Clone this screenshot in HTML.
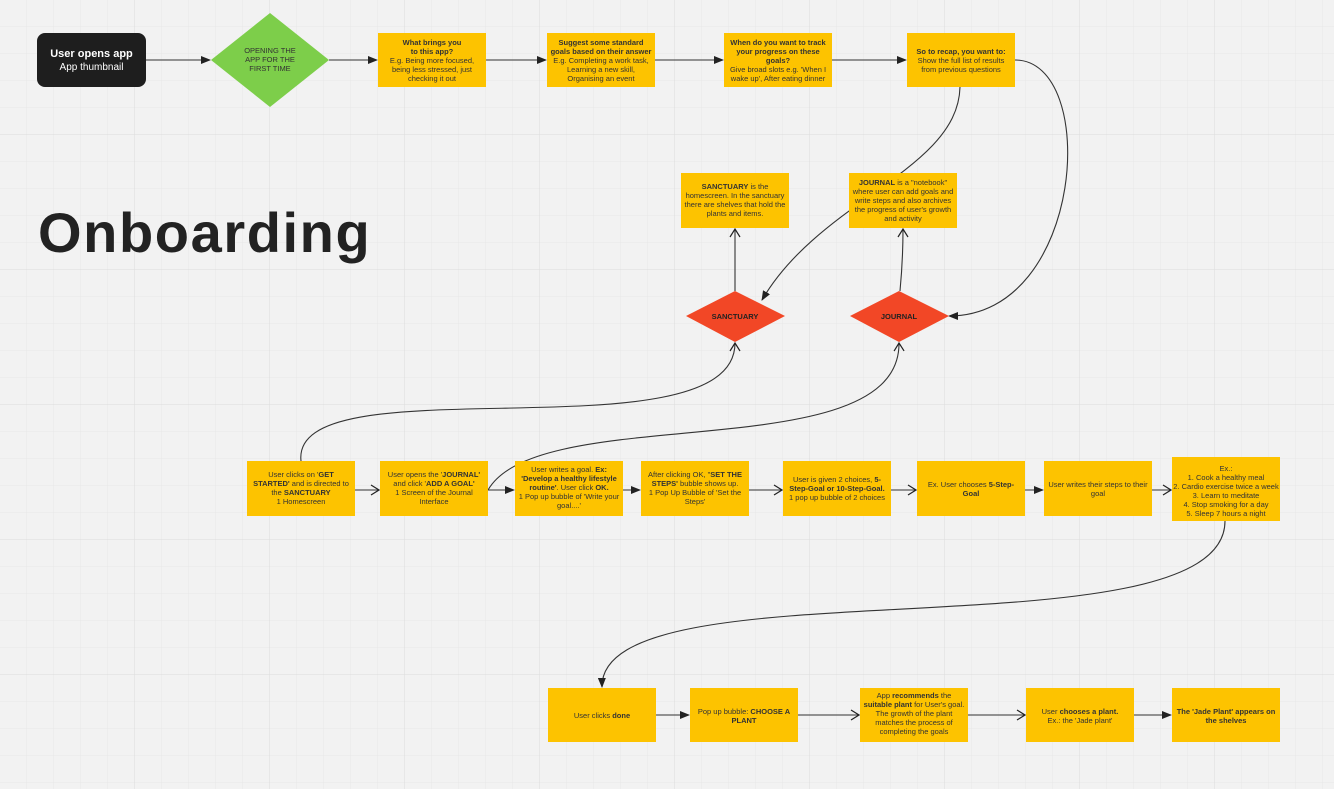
<!DOCTYPE html>
<html><head><meta charset="utf-8"><style>
html,body{margin:0;padding:0;background:#f2f2f2;}
svg{display:block;font-family:"Liberation Sans",Arial,sans-serif;}
</style></head><body>
<svg width="1334" height="789" viewBox="0 0 1334 789" xmlns="http://www.w3.org/2000/svg">
<defs>
<pattern id="g" width="27" height="27" patternUnits="userSpaceOnUse"><path d="M27 0V27H0" fill="none" stroke="#e8e8e8" stroke-width="1"/></pattern>
<pattern id="G" width="135" height="135" patternUnits="userSpaceOnUse"><rect width="135" height="135" fill="url(#g)"/><path d="M135 0V135H0" fill="none" stroke="#dcdcdc" stroke-width="1"/></pattern>
<marker id="a" markerWidth="10" markerHeight="8" refX="9" refY="4" orient="auto" markerUnits="userSpaceOnUse"><path d="M0,0 L10,4 L0,8 Z" fill="#222"/></marker>
<marker id="o" markerWidth="10" markerHeight="12" refX="9" refY="6" orient="auto" markerUnits="userSpaceOnUse"><path d="M1,1 L9,6 L1,11" fill="none" stroke="#222" stroke-width="1.2"/></marker>
</defs>
<rect width="1334" height="789" fill="url(#G)"/>

<g stroke="#333" stroke-width="1.1" fill="none">
<line x1="146" y1="60" x2="210" y2="60" marker-end="url(#a)"/>
<line x1="329" y1="60" x2="377" y2="60" marker-end="url(#a)"/>
<line x1="486" y1="60" x2="546" y2="60" marker-end="url(#a)"/>
<line x1="655" y1="60" x2="723" y2="60" marker-end="url(#a)"/>
<line x1="832" y1="60" x2="906" y2="60" marker-end="url(#a)"/>
<path d="M960,87 C958,170 820,200 762,300" marker-end="url(#a)"/>
<path d="M1015,60 C1100,60 1085,316 949,316" marker-end="url(#a)"/>
<line x1="735" y1="291" x2="735" y2="229" marker-end="url(#o)"/>
<path d="M900,291 C902,270 903,250 903,229" marker-end="url(#o)"/>
<path d="M301,461 C290,360 735,460 735,343" marker-end="url(#o)"/>
<path d="M488,490 C540,400 900,470 899,343" marker-end="url(#o)"/>
<line x1="355" y1="490" x2="379" y2="490" marker-end="url(#o)"/>
<line x1="488" y1="490" x2="514" y2="490" marker-end="url(#a)"/>
<line x1="623" y1="490" x2="640" y2="490" marker-end="url(#a)"/>
<line x1="749" y1="490" x2="782" y2="490" marker-end="url(#o)"/>
<line x1="891" y1="490" x2="916" y2="490" marker-end="url(#o)"/>
<line x1="1025" y1="490" x2="1043" y2="490" marker-end="url(#a)"/>
<line x1="1152" y1="490" x2="1171" y2="490" marker-end="url(#o)"/>
<path d="M1225,521 C1225,660 600,560 602,687" marker-end="url(#a)"/>
<line x1="656" y1="715" x2="689" y2="715" marker-end="url(#a)"/>
<line x1="798" y1="715" x2="859" y2="715" marker-end="url(#o)"/>
<line x1="968" y1="715" x2="1025" y2="715" marker-end="url(#o)"/>
<line x1="1134" y1="715" x2="1171" y2="715" marker-end="url(#a)"/>
</g>

<rect x="37" y="33" width="109" height="54" rx="8" fill="#1e1e1e"/>
<text x="91.5" y="57" fill="#fff" font-size="11" font-weight="bold" text-anchor="middle">User opens app</text>
<text x="91.5" y="70" fill="#fff" font-size="10" text-anchor="middle">App thumbnail</text>

<polygon points="270,13 329,60 270,107 211,60" fill="#7dce4a"/>
<g font-size="7.5" fill="#333" text-anchor="middle"><text x="270" y="53">OPENING THE</text><text x="270" y="62">APP FOR THE</text><text x="270" y="71">FIRST TIME</text></g>

<polygon points="735,291 785,316 735,342 686,316" fill="#f24726"/>
<text x="735" y="319" font-size="7.5" font-weight="bold" fill="#222" text-anchor="middle">SANCTUARY</text>
<polygon points="899,291 949,316 899,342 850,316" fill="#f24726"/>
<text x="899" y="319" font-size="7.5" font-weight="bold" fill="#222" text-anchor="middle">JOURNAL</text>

<text x="38" y="252" font-size="56" font-weight="bold" fill="#222" letter-spacing="1.6">Onboarding</text>

<g fill="#fdc300">
<rect x="378" y="33" width="108" height="54"/><rect x="547" y="33" width="108" height="54"/>
<rect x="724" y="33" width="108" height="54"/><rect x="907" y="33" width="108" height="54"/>
<rect x="681" y="173" width="108" height="55"/><rect x="849" y="173" width="108" height="55"/>
<rect x="247" y="461" width="108" height="55"/><rect x="380" y="461" width="108" height="55"/>
<rect x="515" y="461" width="108" height="55"/><rect x="641" y="461" width="108" height="55"/>
<rect x="783" y="461" width="108" height="55"/><rect x="917" y="461" width="108" height="55"/>
<rect x="1044" y="461" width="108" height="55"/><rect x="1172" y="457" width="108" height="64"/>
<rect x="548" y="688" width="108" height="54"/><rect x="690" y="688" width="108" height="54"/>
<rect x="860" y="688" width="108" height="54"/><rect x="1026" y="688" width="108" height="54"/>
<rect x="1172" y="688" width="108" height="54"/>
</g>

<g font-size="7.5" fill="#333" text-anchor="middle">
<text x="432" y="45"><tspan font-weight="bold">What brings you</tspan><tspan x="432" dy="9" font-weight="bold">to this app?</tspan><tspan x="432" dy="9">E.g. Being more focused,</tspan><tspan x="432" dy="9">being less stressed, just</tspan><tspan x="432" dy="9">checking it out</tspan></text>
<text x="601" y="45"><tspan font-weight="bold">Suggest some standard</tspan><tspan x="601" dy="9" font-weight="bold">goals based on their answer</tspan><tspan x="601" dy="9">E.g. Completing a work task,</tspan><tspan x="601" dy="9">Learning a new skill,</tspan><tspan x="601" dy="9">Organising an event</tspan></text>
<text x="778" y="45"><tspan font-weight="bold">When do you want to track</tspan><tspan x="778" dy="9" font-weight="bold">your progress on these</tspan><tspan x="778" dy="9" font-weight="bold">goals?</tspan><tspan x="778" dy="9">Give broad slots e.g. 'When I</tspan><tspan x="778" dy="9">wake up', After eating dinner</tspan></text>
<text x="961" y="54"><tspan font-weight="bold">So to recap, you want to:</tspan><tspan x="961" dy="9">Show the full list of results</tspan><tspan x="961" dy="9">from previous questions</tspan></text>
<text x="735" y="189"><tspan font-weight="bold">SANCTUARY</tspan> is the<tspan x="735" dy="9">homescreen. In the sanctuary</tspan><tspan x="735" dy="9">there are shelves that hold the</tspan><tspan x="735" dy="9">plants and items.</tspan></text>
<text x="903" y="185"><tspan font-weight="bold">JOURNAL</tspan> is a "notebook"<tspan x="903" dy="9">where user can add goals and</tspan><tspan x="903" dy="9">write steps and also archives</tspan><tspan x="903" dy="9">the progress of user's growth</tspan><tspan x="903" dy="9">and activity</tspan></text>
<text x="301" y="477">User clicks on '<tspan font-weight="bold">GET</tspan><tspan x="301" dy="9" font-weight="bold">STARTED'</tspan> and is directed to<tspan x="301" dy="9">the </tspan><tspan font-weight="bold">SANCTUARY</tspan><tspan x="301" dy="9">1 Homescreen</tspan></text>
<text x="434" y="477">User opens the '<tspan font-weight="bold">JOURNAL'</tspan><tspan x="434" dy="9">and click '</tspan><tspan font-weight="bold">ADD A GOAL'</tspan><tspan x="434" dy="9">1 Screen of the Journal</tspan><tspan x="434" dy="9">Interface</tspan></text>
<text x="569" y="472">User writes a goal. <tspan font-weight="bold">Ex:</tspan><tspan x="569" dy="9" font-weight="bold">'Develop a healthy lifestyle</tspan><tspan x="569" dy="9" font-weight="bold">routine'</tspan>. User click <tspan font-weight="bold">OK.</tspan><tspan x="569" dy="9">1 Pop up bubble of 'Write your</tspan><tspan x="569" dy="9">goal....'</tspan></text>
<text x="695" y="477">After clicking OK, "<tspan font-weight="bold">SET THE</tspan><tspan x="695" dy="9" font-weight="bold">STEPS'</tspan> bubble shows up.<tspan x="695" dy="9">1 Pop Up Bubble of 'Set the</tspan><tspan x="695" dy="9">Steps'</tspan></text>
<text x="837" y="482">User is given 2 choices, <tspan font-weight="bold">5-</tspan><tspan x="837" dy="9" font-weight="bold">Step-Goal or 10-Step-Goal.</tspan><tspan x="837" dy="9">1 pop up bubble of 2 choices</tspan></text>
<text x="971" y="487">Ex. User chooses <tspan font-weight="bold">5-Step-</tspan><tspan x="971" dy="9" font-weight="bold">Goal</tspan></text>
<text x="1098" y="487">User writes their steps to their<tspan x="1098" dy="9">goal</tspan></text>
<text x="1226" y="471">Ex.:<tspan x="1226" dy="9">1. Cook a healthy meal</tspan><tspan x="1226" dy="9">2. Cardio exercise twice a week</tspan><tspan x="1226" dy="9">3. Learn to meditate</tspan><tspan x="1226" dy="9">4. Stop smoking for a day</tspan><tspan x="1226" dy="9">5. Sleep 7 hours a night</tspan></text>
<text x="602" y="718">User clicks <tspan font-weight="bold">done</tspan></text>
<text x="744" y="714">Pop up bubble: <tspan font-weight="bold">CHOOSE A</tspan><tspan x="744" dy="9" font-weight="bold">PLANT</tspan></text>
<text x="914" y="698">App <tspan font-weight="bold">recommends</tspan> the<tspan x="914" dy="9" font-weight="bold">suitable plant</tspan> for User's goal.<tspan x="914" dy="9">The growth of the plant</tspan><tspan x="914" dy="9">matches the process of</tspan><tspan x="914" dy="9">completing the goals</tspan></text>
<text x="1080" y="714">User <tspan font-weight="bold">chooses a plant.</tspan><tspan x="1080" dy="9">Ex.: the 'Jade plant'</tspan></text>
<text x="1226" y="714" font-weight="bold">The 'Jade Plant' appears on<tspan x="1226" dy="9">the shelves</tspan></text>
</g>
</svg>
</body></html>
